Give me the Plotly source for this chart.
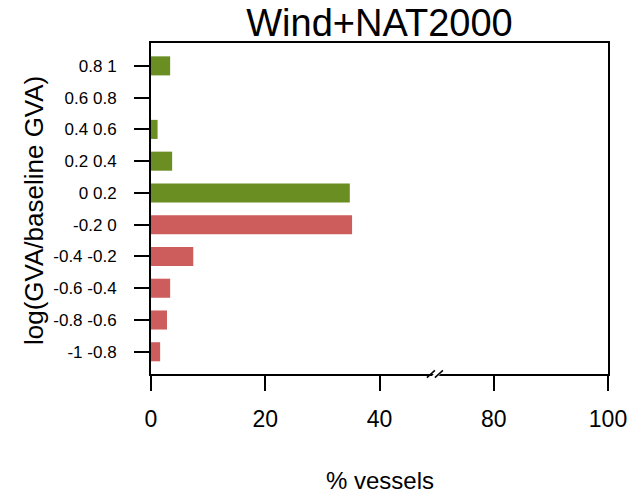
import plotly.graph_objects as go

# Bins of log(GVA / baseline GVA), bottom to top
bins = ["-1 -0.8", "-0.8 -0.6", "-0.6 -0.4", "-0.4 -0.2", "-0.2 0",
        "0 0.2", "0.2 0.4", "0.4 0.6", "0.6 0.8", "0.8 1"]
# Share of vessels in each bin (%)
pct_vessels = [1.6, 2.8, 3.35, 7.4, 35.2, 34.8, 3.7, 1.15, 0.0, 3.35]
# Labels for the broken x axis
x_tick_labels = ["0", "20", "40", "80", "100"]

LOSS = "#CD5C5C"
GAIN = "#6B8E23"
colors = [LOSS if b.split()[0].startswith("-") else GAIN for b in bins]

FONT = "Liberation Sans, Arial, sans-serif"

fig = go.Figure(
    go.Bar(
        x=pct_vessels,
        y=bins,
        orientation="h",
        width=0.6,
        marker=dict(color=colors, line=dict(width=0)),
        hoverinfo="x+y",
    )
)

axis_common = dict(
    showline=True, linecolor="black", linewidth=2, mirror=True,
    ticks="outside", ticklen=15, tickwidth=2, tickcolor="black",
    showgrid=False, zeroline=False, automargin=False,
)

fig.update_xaxes(
    range=[0, 80],
    tickvals=[0, 20, 40, 60, 80],
    ticktext=x_tick_labels,
    tickfont=dict(family=FONT, size=23, color="black"),
    ticklabelstandoff=8,
    **axis_common,
)
fig.update_yaxes(
    type="category",
    range=[-0.7, 9.72],
    tickfont=dict(family=FONT, size=17, color="black"),
    ticklabelstandoff=14,
    **axis_common,
)

# Axis break marks ("//") at position 50 on the x axis
h = 0.011
shapes = [
    dict(type="path", xref="x", yref="paper",
         path=f"M 48.9 {-h} L 50.1 {h} L 51.3 {h} L 50.1 {-h} Z",
         fillcolor="white", line=dict(width=0), layer="above"),
    dict(type="line", xref="x", yref="paper", x0=48.3, y0=-h, x1=49.7, y1=h,
         line=dict(color="black", width=1.5), layer="above"),
    dict(type="line", xref="x", yref="paper", x0=49.7, y0=-h, x1=51.1, y1=h,
         line=dict(color="black", width=1.5), layer="above"),
]

fig.update_layout(
    width=633, height=495,
    margin=dict(l=151, r=25, t=43, b=121, autoexpand=False),
    paper_bgcolor="white", plot_bgcolor="white",
    showlegend=False,
    title=dict(text="Wind+NAT2000", x=(151 + 608) / 2 / 633, xanchor="center",
               y=1 - 23 / 495, yanchor="middle", yref="container",
               font=dict(family=FONT, size=38, color="black")),
    shapes=shapes,
    annotations=[
        dict(text="% vessels", xref="paper", yref="paper",
             x=0.5, y=(374 - 481) / 331, xanchor="center", yanchor="middle",
             showarrow=False, font=dict(family=FONT, size=24, color="black")),
        dict(text="log(GVA/baseline GVA)", xref="paper", yref="paper",
             x=(34 - 151) / 457, y=(374 - 210) / 331, xanchor="center", yanchor="middle",
             textangle=-90, showarrow=False,
             font=dict(family=FONT, size=26, color="black")),
    ],
)

fig.write_html("out.html")
